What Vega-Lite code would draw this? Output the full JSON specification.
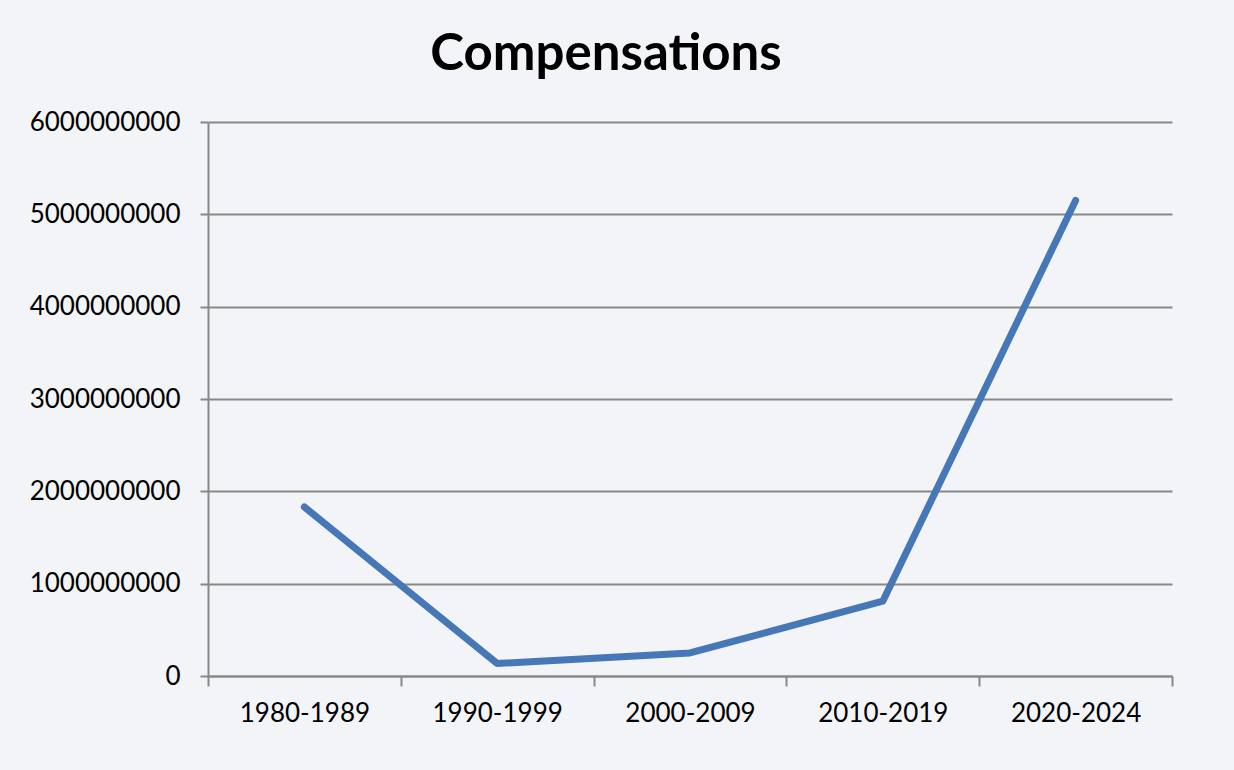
{
  "$schema": "https://vega.github.io/schema/vega-lite/v6.json",
  "autosize": {"type": "none"},
  "width": 964,
  "height": 554,
  "padding": {"left": 208, "top": 122, "right": 62, "bottom": 94},
  "background": "#f3f4f7",
  "title": {
    "text": "Compensations",
    "font": "Lato",
    "fontSize": 51,
    "fontWeight": "bold",
    "color": "#000000",
    "anchor": "middle",
    "frame": "group",
    "dx": -84,
    "offset": 28
  },
  "data": {
    "values": [
      {"period": "1980-1989", "value": 1830000000},
      {"period": "1990-1999", "value": 135000000},
      {"period": "2000-2009", "value": 250000000},
      {"period": "2010-2019", "value": 810000000},
      {"period": "2020-2024", "value": 5150000000}
    ]
  },
  "mark": {"type": "line", "color": "#4677b6", "strokeWidth": 7, "strokeCap": "round", "strokeJoin": "round"},
  "encoding": {
    "x": {
      "field": "period",
      "type": "nominal",
      "sort": null,
      "scale": {"type": "band", "paddingInner": 0, "paddingOuter": 0},
      "axis": {
        "title": null,
        "labelAngle": 0,
        "tickBand": "extent",
        "grid": false,
        "domainColor": "#888888",
        "domainWidth": 2,
        "tickColor": "#888888",
        "tickWidth": 2,
        "tickSize": 10,
        "labelFont": "Lato",
        "labelFontSize": 26,
        "labelColor": "#000000",
        "labelPadding": 14
      }
    },
    "y": {
      "field": "value",
      "type": "quantitative",
      "scale": {"domain": [0, 6000000000], "nice": false},
      "axis": {
        "title": null,
        "values": [0, 1000000000, 2000000000, 3000000000, 4000000000, 5000000000, 6000000000],
        "format": "d",
        "grid": true,
        "gridColor": "#888888",
        "gridWidth": 2,
        "domain": true,
        "domainColor": "#888888",
        "domainWidth": 2,
        "tickColor": "#888888",
        "tickWidth": 2,
        "tickSize": 8,
        "labelFont": "Lato",
        "labelFontSize": 26,
        "labelColor": "#000000",
        "labelPadding": 20
      }
    }
  },
  "config": {"view": {"stroke": null}}
}
